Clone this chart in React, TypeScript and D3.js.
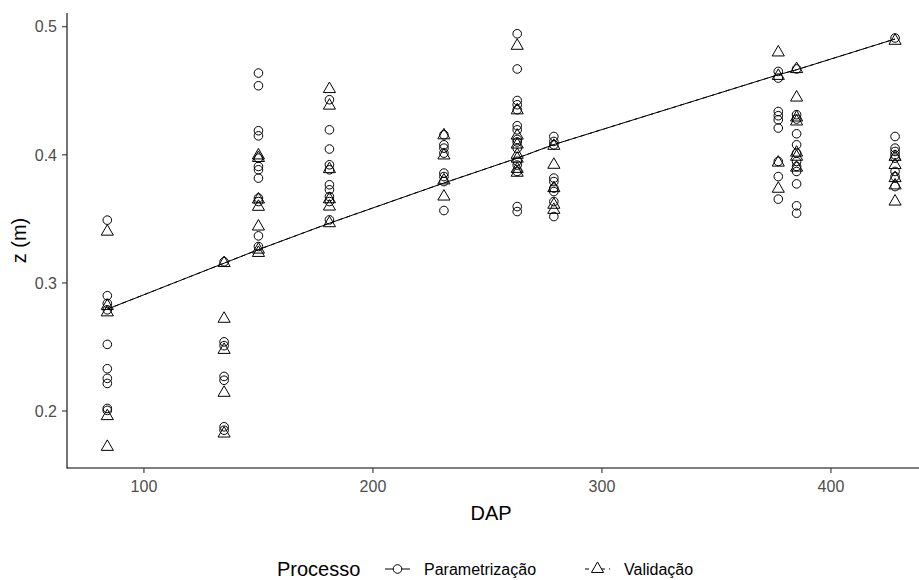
import React from "react";
import * as d3 from "d3";

// DAP levels (one column of points per level)
const dapLevels = [84, 135, 150, 181, 231, 263, 279, 377, 385, 428];

// Fitted z at each DAP level
const fittedZ = [0.2795, 0.3154, 0.326, 0.3466, 0.378, 0.3974, 0.408, 0.4625, 0.4664, 0.4904];

// Parametrização (circles), per DAP level
const paramZ: number[][] = [
  [0.349, 0.29, 0.284, 0.279, 0.252, 0.233, 0.2255, 0.2215, 0.202, 0.2005],
  [0.3165, 0.254, 0.251, 0.227, 0.224, 0.1877, 0.185],
  [0.4638, 0.4539, 0.4188, 0.4148, 0.3974, 0.3909, 0.3883, 0.3818, 0.3662, 0.3635, 0.3367, 0.3284],
  [0.443, 0.4195, 0.4045, 0.3922, 0.3883, 0.3766, 0.3727, 0.3674, 0.3635, 0.3492],
  [0.4156, 0.4078, 0.4052, 0.4013, 0.3857, 0.383, 0.3791, 0.3565],
  [0.4945, 0.467, 0.4424, 0.4391, 0.4352, 0.4227, 0.4195, 0.412, 0.41, 0.405, 0.395, 0.392, 0.387, 0.3596, 0.3557],
  [0.4143, 0.4104, 0.4078, 0.3818, 0.3791, 0.374, 0.3713, 0.3635, 0.3518],
  [0.4651, 0.4599, 0.4338, 0.4305, 0.4273, 0.4209, 0.3948, 0.383, 0.3654],
  [0.467, 0.4313, 0.4279, 0.4164, 0.4078, 0.4013, 0.3948, 0.3909, 0.387, 0.3773, 0.3602, 0.3544],
  [0.4912, 0.4143, 0.4052, 0.4026, 0.4, 0.3974, 0.387, 0.383, 0.3752],
];

// Validação (triangles), per DAP level
const validZ: number[][] = [
  [0.34, 0.282, 0.277, 0.196, 0.172],
  [0.3155, 0.272, 0.2477, 0.2142, 0.1824],
  [0.3995, 0.3975, 0.3651, 0.3594, 0.344, 0.326, 0.3234],
  [0.4513, 0.4384, 0.3888, 0.3653, 0.3596, 0.3466],
  [0.4152, 0.3995, 0.38, 0.3674],
  [0.4851, 0.4347, 0.415, 0.408, 0.4, 0.397, 0.389, 0.386],
  [0.407, 0.3922, 0.374, 0.361, 0.357],
  [0.4799, 0.4616, 0.3939, 0.3735],
  [0.4669, 0.4447, 0.4291, 0.426, 0.4017, 0.3985, 0.39],
  [0.489, 0.3984, 0.392, 0.3818, 0.3761, 0.3635],
];

const xTicks = [100, 200, 300, 400];
const yTicks = [0.2, 0.3, 0.4, 0.5];
const legendTitle = "Processo";
const seriesNames = ["Parametrização", "Validação"];

const W = 919;
const H = 580;
const panelLeft = 67;
const panelTop = 13;
const panelBottom = 468;
const FONT = "'Liberation Sans', Arial, Helvetica, sans-serif";

const x = d3.scaleLinear().domain([66.4, 442]).range([panelLeft, panelLeft + (442 - 66.4) * 2.29]);
const y = d3.scaleLinear().domain([0.1555, 0.5107]).range([panelBottom, panelTop]);

const CR = 4.3; // circle radius
const TR = 4.5; // triangle base size (R pch 2)
function trianglePath(cx: number, cy: number, s: number) {
  const r = 1.5551 * s;
  const yc = 0.7776 * s;
  const xc = 1.3468 * s;
  return `M${cx},${cy - r}L${cx + xc},${cy + yc}L${cx - xc},${cy + yc}Z`;
}

export default function App() {
  const line = d3
    .line<number>()
    .x((_, i) => x(dapLevels[i]))
    .y((d) => y(d));
  const linePath = line(fittedZ) || "";

  const circles: { cx: number; cy: number }[] = [];
  paramZ.forEach((col, i) => col.forEach((z) => circles.push({ cx: x(dapLevels[i]), cy: y(z) })));
  const tris: { cx: number; cy: number }[] = [];
  validZ.forEach((col, i) => col.forEach((z) => tris.push({ cx: x(dapLevels[i]), cy: y(z) })));

  const legY = 569;
  const key1 = 397.5;
  const key2 = 597.5;

  return (
    <svg
      width={W}
      height={H}
      style={{ position: "absolute", left: 0, top: 0, background: "#fff" }}
      fontFamily={FONT}
    >
      <rect x={0} y={0} width={W} height={H} fill="#fff" />
      {/* line (both series share fitted curve) */}
      <path d={linePath} fill="none" stroke="#000" strokeWidth={1} />
      <path d={linePath} fill="none" stroke="#000" strokeWidth={1} strokeDasharray="4,4" />
      {/* points */}
      {circles.map((p, i) => (
        <circle key={"c" + i} cx={p.cx} cy={p.cy} r={CR} fill="none" stroke="#000" strokeWidth={1} />
      ))}
      {tris.map((p, i) => (
        <path key={"t" + i} d={trianglePath(p.cx, p.cy, TR)} fill="none" stroke="#000" strokeWidth={1} />
      ))}
      {/* axes */}
      <line x1={panelLeft} x2={panelLeft} y1={panelTop} y2={panelBottom + 0.5} stroke="#000" strokeWidth={1.1} />
      <line x1={panelLeft} x2={W} y1={panelBottom} y2={panelBottom} stroke="#000" strokeWidth={1.1} />
      {yTicks.map((t) => (
        <g key={"yt" + t}>
          <line x1={panelLeft - 5} x2={panelLeft} y1={y(t)} y2={y(t)} stroke="#333" strokeWidth={1.1} />
          <text x={panelLeft - 10} y={y(t)} dy="0.36em" textAnchor="end" fontSize={16} fill="#4D4D4D">
            {t.toFixed(1)}
          </text>
        </g>
      ))}
      {xTicks.map((t) => (
        <g key={"xt" + t}>
          <line x1={x(t)} x2={x(t)} y1={panelBottom} y2={panelBottom + 5} stroke="#333" strokeWidth={1.1} />
          <text x={x(t)} y={492} textAnchor="middle" fontSize={16} fill="#4D4D4D">
            {t}
          </text>
        </g>
      ))}
      <text x={491} y={520} textAnchor="middle" fontSize={20} fill="#000">
        DAP
      </text>
      <text
        transform={`translate(26,${(panelTop + panelBottom) / 2}) rotate(-90)`}
        textAnchor="middle"
        fontSize={20}
        fill="#000"
      >
        z (m)
      </text>
      {/* legend */}
      <text x={277} y={legY + 7} fontSize={20} fill="#000">
        {legendTitle}
      </text>
      <line x1={key1 - 12.5} x2={key1 + 12.5} y1={legY} y2={legY} stroke="#000" strokeWidth={1} />
      <circle cx={key1} cy={legY} r={CR} fill="#fff" stroke="#000" strokeWidth={1} />
      <text x={424} y={legY + 6} fontSize={16} fill="#000">
        {seriesNames[0]}
      </text>
      <line
        x1={key2 - 12.5}
        x2={key2 + 12.5}
        y1={legY}
        y2={legY}
        stroke="#000"
        strokeWidth={1}
        strokeDasharray="4,4"
      />
      <path d={trianglePath(key2, legY, TR)} fill="#fff" stroke="#000" strokeWidth={1} />
      <text x={624} y={legY + 6} fontSize={16} fill="#000">
        {seriesNames[1]}
      </text>
    </svg>
  );
}
